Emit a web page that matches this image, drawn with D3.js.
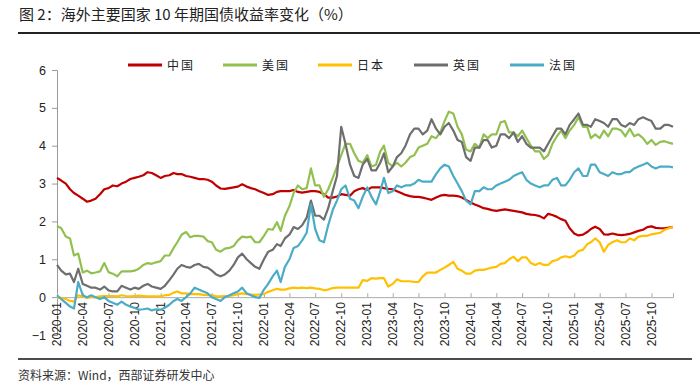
<!DOCTYPE html>
<html><head><meta charset="utf-8">
<script src="https://cdn.jsdelivr.net/npm/d3@7"></script>
<style>
body{margin:0;background:#fff;}
svg{display:block;font-family:"Liberation Sans",Arial,sans-serif;}
.cjk{font-family:"Noto Sans CJK SC","Liberation Sans",sans-serif;}
</style></head>
<body><svg id="c" width="700" height="392"></svg>
<script>
// ---- data (semi-monthly samples: 1st and 16th of each month, 2020-01 .. 2025-12) ----
const seriesNames = ["中国","美国","日本","英国","法国"];
const china = [3.15,3.08,3.00,2.85,2.75,2.68,2.60,2.52,2.55,2.60,2.72,2.85,2.88,2.95,2.93,3.00,3.05,3.12,3.15,3.18,3.22,3.30,3.28,3.22,
3.15,3.20,3.22,3.28,3.25,3.25,3.20,3.18,3.15,3.12,3.12,3.10,3.05,2.95,2.87,2.86,2.88,2.90,2.92,2.98,2.92,2.88,2.85,2.80,
2.75,2.70,2.72,2.78,2.80,2.80,2.80,2.83,2.78,2.76,2.78,2.80,2.80,2.78,2.72,2.63,2.63,2.66,2.72,2.70,2.68,2.80,2.85,2.88,
2.83,2.90,2.90,2.90,2.88,2.86,2.85,2.80,2.75,2.70,2.67,2.65,2.65,2.63,2.60,2.57,2.63,2.68,2.70,2.68,2.68,2.67,2.63,2.57,
2.50,2.45,2.40,2.35,2.33,2.30,2.28,2.30,2.32,2.30,2.28,2.26,2.24,2.20,2.18,2.17,2.14,2.08,2.20,2.17,2.12,2.06,2.02,1.82,
1.68,1.63,1.65,1.72,1.80,1.86,1.80,1.66,1.65,1.68,1.65,1.64,1.65,1.67,1.71,1.75,1.78,1.85,1.87,1.83,1.82,1.82,1.84,1.85];
const usa = [1.88,1.82,1.60,1.55,1.10,1.15,0.65,0.70,0.63,0.65,0.68,0.90,0.66,0.62,0.55,0.68,0.68,0.68,0.70,0.75,0.85,0.90,0.88,0.92,
0.95,1.10,1.10,1.30,1.45,1.65,1.72,1.58,1.62,1.62,1.60,1.48,1.45,1.25,1.20,1.28,1.30,1.35,1.50,1.60,1.58,1.60,1.45,1.45,
1.62,1.80,1.78,1.98,1.75,2.15,2.40,2.75,2.95,2.85,2.88,3.40,2.95,2.95,2.65,2.85,3.15,3.45,3.75,4.05,4.05,3.80,3.60,3.55,
3.75,3.45,3.50,3.85,4.00,3.55,3.45,3.55,3.45,3.55,3.70,3.75,3.95,4.00,4.05,4.25,4.20,4.35,4.65,4.90,4.85,4.50,4.30,3.90,
3.85,4.05,3.95,4.30,4.20,4.30,4.30,4.62,4.65,4.35,4.35,4.25,4.40,4.20,4.00,3.85,3.85,3.65,3.75,4.05,4.25,4.40,4.20,4.40,
4.55,4.75,4.50,4.50,4.20,4.30,4.20,4.40,4.25,4.45,4.45,4.40,4.25,4.45,4.25,4.30,4.20,4.05,4.15,4.02,4.10,4.12,4.08,4.05];
const japan = [-0.02,-0.02,-0.05,-0.10,-0.12,0.05,0.02,-0.02,0.00,0.00,0.02,0.03,0.03,0.03,0.02,0.05,0.03,0.02,0.03,0.04,0.03,0.02,0.02,0.02,
0.02,0.05,0.06,0.12,0.15,0.10,0.10,0.08,0.08,0.08,0.06,0.05,0.05,0.02,0.02,0.03,0.03,0.05,0.08,0.10,0.08,0.07,0.06,0.07,
0.08,0.14,0.18,0.22,0.20,0.20,0.23,0.25,0.24,0.25,0.24,0.25,0.23,0.22,0.18,0.20,0.24,0.25,0.25,0.25,0.25,0.25,0.25,0.45,
0.43,0.50,0.49,0.50,0.50,0.28,0.35,0.47,0.42,0.42,0.42,0.40,0.40,0.55,0.65,0.65,0.65,0.72,0.78,0.85,0.93,0.75,0.70,0.62,
0.62,0.70,0.72,0.72,0.75,0.78,0.80,0.88,0.90,1.00,1.07,0.95,1.05,1.05,0.90,0.85,0.90,0.85,0.85,0.95,0.98,1.05,1.08,1.05,
1.10,1.22,1.25,1.40,1.45,1.55,1.45,1.20,1.38,1.45,1.50,1.45,1.45,1.55,1.50,1.60,1.62,1.62,1.66,1.68,1.70,1.78,1.82,1.86];
const uk = [0.85,0.70,0.60,0.62,0.40,0.75,0.35,0.30,0.25,0.25,0.20,0.28,0.18,0.15,0.15,0.30,0.25,0.20,0.25,0.22,0.30,0.35,0.28,0.25,
0.22,0.30,0.45,0.60,0.75,0.85,0.80,0.78,0.85,0.88,0.80,0.78,0.70,0.60,0.55,0.60,0.70,0.85,1.05,1.15,1.00,0.90,0.80,0.75,
1.00,1.20,1.25,1.40,1.35,1.55,1.65,1.85,1.80,1.90,2.10,2.55,2.15,2.15,2.05,2.35,2.80,3.20,4.50,4.05,3.50,3.20,3.15,3.50,
3.65,3.35,3.35,3.55,3.80,3.30,3.45,3.70,3.80,4.00,4.30,4.45,4.45,4.30,4.40,4.70,4.45,4.30,4.50,4.60,4.40,4.15,4.10,3.70,
3.60,3.95,3.95,4.15,4.15,3.95,4.00,4.30,4.30,4.20,4.35,4.10,4.25,4.05,3.95,3.95,3.95,3.85,4.05,4.25,4.45,4.45,4.30,4.55,
4.70,4.85,4.55,4.55,4.50,4.70,4.65,4.60,4.50,4.70,4.70,4.55,4.50,4.60,4.55,4.70,4.75,4.70,4.65,4.45,4.45,4.55,4.55,4.50];
const france = [0.05,-0.05,-0.15,-0.25,-0.30,0.40,0.05,0.00,0.05,0.00,-0.05,0.00,-0.10,-0.15,-0.20,-0.12,-0.20,-0.25,-0.28,-0.33,-0.32,-0.30,-0.35,-0.32,
-0.33,-0.28,-0.20,-0.10,-0.05,-0.10,0.00,0.10,0.25,0.20,0.15,0.10,0.00,-0.05,-0.10,0.00,0.05,0.10,0.15,0.25,0.10,0.05,0.00,-0.02,
0.20,0.35,0.55,0.70,0.40,0.80,1.00,1.30,1.35,1.50,1.70,2.45,1.80,1.50,1.45,1.90,2.30,2.55,2.85,2.95,2.60,2.55,2.35,2.65,
2.90,2.65,2.45,2.80,3.15,2.75,2.80,2.95,2.90,2.95,2.95,3.00,3.10,3.05,3.05,3.05,3.25,3.40,3.50,3.45,3.20,3.00,2.80,2.55,
2.45,2.80,2.80,2.90,2.85,2.85,2.95,3.00,3.05,3.10,3.20,3.25,3.30,3.10,3.00,2.95,2.90,2.95,2.95,3.10,3.15,2.95,2.95,3.10,
3.30,3.40,3.20,3.20,3.50,3.50,3.30,3.25,3.20,3.30,3.25,3.25,3.30,3.30,3.40,3.45,3.50,3.55,3.45,3.40,3.45,3.45,3.45,3.43];
const colors = ["#C00000","#92C050","#FFC000","#6E6E6E","#4BACC6"];
const yTicks = [-1,0,1,2,3,4,5,6];
const startYear = 2020, endYear = 2025;

// sample dates
const dates = [];
for (let y = startYear; y <= endYear; y++) for (let m = 0; m < 12; m++) { dates.push(new Date(y,m,1)); dates.push(new Date(y,m,16)); }
const allSeries = [china, usa, japan, uk, france];

const svg = d3.select("#c");
const x = d3.scaleTime().domain([new Date(2020,0,1), new Date(2025,11,16)]).range([57, 673]);
const y = d3.scaleLinear().domain([-1, 6]).range([335, 70]);

// title
svg.append("text").attr("class","cjk").attr("x",19).attr("y",20).attr("font-size",15).attr("fill","#222")
  .text("图 2：海外主要国家 10 年期国债收益率变化（%）");
svg.append("line").attr("x1",18).attr("x2",700).attr("y1",33).attr("y2",33).attr("stroke","#222").attr("stroke-width",2);

// y axis
const yAxis = svg.append("g").attr("transform","translate(57,0)")
  .call(d3.axisLeft(y).tickValues(yTicks).tickSize(5).tickPadding(6).tickFormat(d3.format("d")));
yAxis.select(".domain").attr("stroke","#999");
yAxis.selectAll(".tick line").attr("stroke","#999");
yAxis.selectAll("text").attr("font-size",12.5).attr("fill","#222").attr("font-family","Liberation Sans, Arial");

// x axis at y=0
const qTicks = d3.timeMonth.every(3).range(new Date(2020,0,1), new Date(2025,11,2));
const xAxis = svg.append("g").attr("transform",`translate(0,${y(0)})`)
  .call(d3.axisTop(x).tickValues(qTicks).tickSize(4).tickFormat(""));
xAxis.select(".domain").attr("stroke","#aaa");
xAxis.selectAll(".tick line").attr("stroke","#aaa");
const fmt = d3.timeFormat("%Y-%m");
svg.append("g").selectAll("text").data(qTicks).join("text")
  .attr("transform", d => `translate(${x(d)},${y(0)+5}) rotate(-90)`)
  .attr("text-anchor","end").attr("dy","0.35em").attr("font-size",12).attr("fill","#222")
  .text(d => fmt(d));

// lines
const line = d3.line().x((d,i) => x(dates[i])).y(d => y(d));
allSeries.forEach((s,k) => {
  svg.append("path").datum(s).attr("d", line).attr("fill","none")
    .attr("stroke", colors[k]).attr("stroke-width",2.2).attr("stroke-linejoin","round");
});

// legend
const legX = [128, 223, 318, 414, 510];
seriesNames.forEach((n,k) => {
  svg.append("line").attr("x1",legX[k]).attr("x2",legX[k]+34).attr("y1",65).attr("y2",65)
    .attr("stroke",colors[k]).attr("stroke-width",3);
  svg.append("text").attr("class","cjk").attr("x",legX[k]+39).attr("y",69.5).attr("font-size",12).attr("fill","#222")
    .attr("letter-spacing",2).text(n);
});

// footer
svg.append("line").attr("x1",18).attr("x2",692).attr("y1",359).attr("y2",359).attr("stroke","#111").attr("stroke-width",1.5);
svg.append("text").attr("class","cjk").attr("x",18).attr("y",380).attr("font-size",12).attr("fill","#333")
  .text("资料来源：Wind，西部证券研发中心");
</script></body></html>
